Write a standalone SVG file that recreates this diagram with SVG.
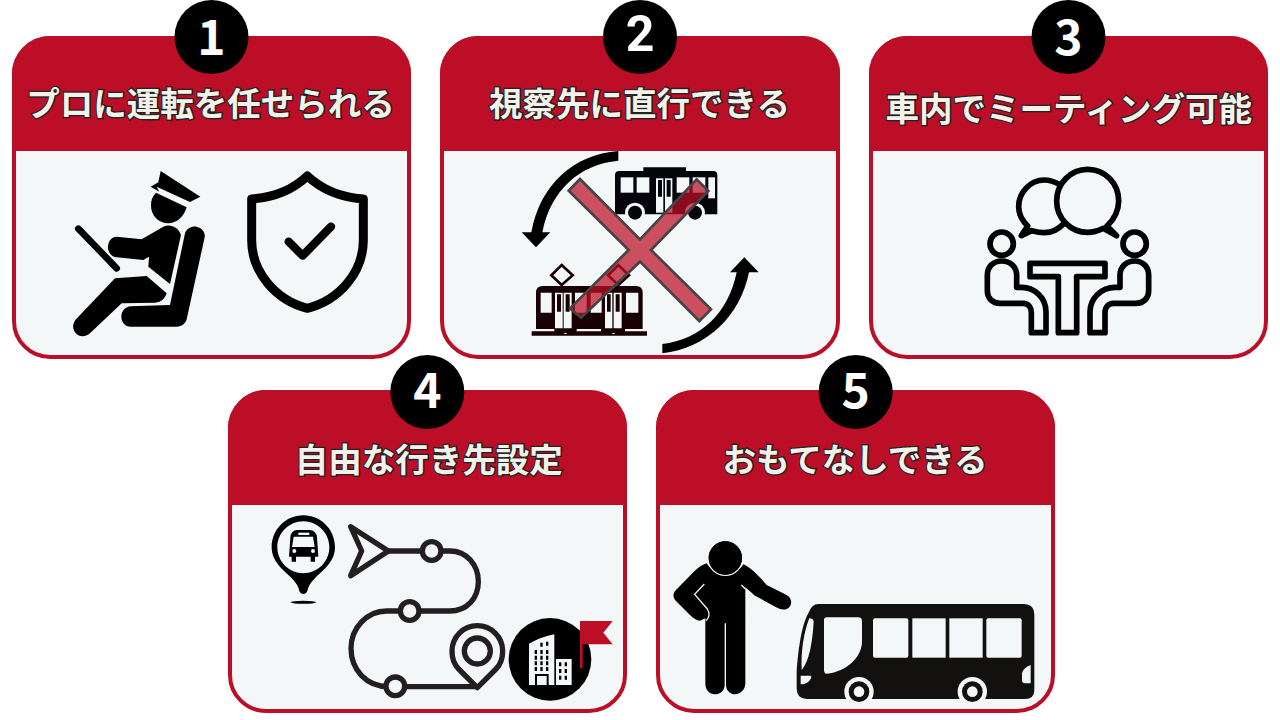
<svg xmlns="http://www.w3.org/2000/svg" width="1280" height="720" viewBox="0 0 1280 720">
<style>
.card{fill:#f3f7f8;stroke:#bc0e26;stroke-width:4}
.head{fill:#bc0e26}
.num{fill:#000}
.n{font-family:"Noto Sans CJK JP","Noto Sans",sans-serif;font-weight:700;font-size:48px;fill:#fff;text-anchor:middle}
.n2{font-family:Roboto,"Noto Sans",sans-serif;font-weight:700;font-size:50px;fill:#fff;text-anchor:middle}
.t{font-family:"Noto Sans CJK JP","Noto Sans CJK SC",sans-serif;font-weight:700;font-size:33.5px;fill:#f2f1ea;stroke:#222;stroke-width:2.6;paint-order:stroke;text-anchor:middle}
.k{fill:#000}
.ln{fill:none;stroke:#000;stroke-linecap:round;stroke-linejoin:round}
.w{fill:#f3f7f8}
.route{fill:none;stroke:#231f20;stroke-width:16;stroke-linejoin:round}
.dot{fill:#f3f7f8;stroke:#231f20;stroke-width:16}
</style>
<rect width="1280" height="720" fill="#fff"/>
<g id="connectors"/>

<g id="card-1">
<rect class="card" x="14" y="38" width="395" height="319" rx="36"/>
<path class="head" d="M12 151V74a38 38 0 0 1 38-38H373a38 38 0 0 1 38 38V151Z"/>
<circle class="num" cx="211.500" cy="37" r="37"/>
<text class="n" x="211.500" y="55">1</text>
<text class="t" x="210.500" y="116">プロに運転を任せられる</text>
<g transform="scale(.33333)">
<path class="k" d="M482 513L601 590L570 606L470 560L478 575L452 560L475 547Z"/>
<path class="k" d="M468 578L560 622C552 650 530 670 505 670C475 670 452 645 453 615C453 600 458 588 468 578Z"/>
<path class="ln" stroke-width="20" d="M235 686L350 805"/>
<path class="k" d="M350 710L425 718L490 680C510 670 535 680 543 705L510 852L445 800L447 770L430 780L350 772C330 770 322 750 324 738C326 722 335 710 350 710Z"/>
<path class="k" d="M345 835L440 828L500 880C495 895 485 907 465 908L365 910L270 1000C255 1012 238 1012 226 998C216 985 218 970 228 958Z"/>
<path class="k" d="M555 700C560 685 575 678 590 680C605 683 617 697 614 712L560 958C556 972 545 980 530 980H392C375 980 364 965 364 950C364 932 378 920 392 919L510 915Z"/>
<path class="ln" stroke-width="27" d="M922 528C880 568 825 592 755 597V720C755 815 825 900 922 925C1020 900 1090 815 1090 720V597C1020 592 965 568 922 528Z"/>
<path class="ln" stroke-width="25" d="M866 725L908 767L993 680"/>
</g>
</g>

<g id="card-2">
<rect class="card" x="442" y="38" width="396" height="319" rx="36"/>
<path class="head" d="M440 151V74a38 38 0 0 1 38-38H802a38 38 0 0 1 38 38V151Z"/>
<circle class="num" cx="640" cy="37" r="37"/>
<text class="n2" x="640" y="51">2</text>
<text class="t" x="639.500" y="116">視察先に直行できる</text>
<g transform="translate(430 0) scale(.33333)">
<path class="k" d="M565 453V482C450 492 362 570 337 697H361L318 742L275 697H304C330 555 430 463 565 453Z"/>
<path class="k" d="M697 1032C810 1020 895 940 920 817H900L943 772L986 817H957C930 950 830 1045 697 1060Z"/>
<g id="bus2">
<path fill="#04040a" d="M555 525Q555 513 568 513H640V502H768V513H850Q862 513 862 525V643H555Z"/>
<g class="w"><rect x="572" y="532" width="38" height="46"/><rect x="620" y="532" width="38" height="46"/><rect x="678" y="535" width="22" height="103"/><rect x="705" y="535" width="22" height="103"/><rect x="740" y="532" width="38" height="46"/><rect x="788" y="532" width="38" height="46"/><rect x="835" y="532" width="20" height="63"/></g>
<path fill="#04040a" d="M684 540h12v50h-12zM710 540h12v50h-12z"/>
<circle cx="615" cy="638" r="30" fill="#f3f7f8"/><circle cx="615" cy="638" r="21" fill="#04040a"/>
<circle cx="795" cy="638" r="30" fill="#f3f7f8"/><circle cx="795" cy="638" r="21" fill="#04040a"/>
</g>
<g id="tram">
<path fill="#190005" d="M318 878Q318 858 338 858H618Q638 858 638 878V987H318Z"/>
<path fill="#190005" d="M305 994H373V985H440V994H513V985H585V994H651V1007H305Z"/>
<path fill="#f3f7f8" d="M403 999h7v3h-7zM547 999h7v3h-7z"/>
<path fill="#f3f7f8" d="M332 878H365V938H332ZM375 878H398V985H375ZM401 878H425V985H401ZM435 878H470V938H435ZM482 878H515V938H482ZM525 878H547V985H525ZM551 878H575V985H551ZM588 878H625V938H588Z"/>
<path fill="#190005" d="M381 883h12v52h-12zM407 883h12v52h-12zM531 883h11v52h-11zM557 883h12v52h-12z"/>
<path fill="none" stroke="#190005" stroke-width="8" d="M395 795L428 826L395 855L364 826ZM565 795L597 826L565 855L534 826Z"/>
</g>
<path fill="#bc0e26" fill-opacity=".72" stroke="#444" stroke-width="8" stroke-linejoin="miter" d="M450 537L630 718L800 538L835 573L663 750L843 928L808 963L630 785L453 953L420 925L596 750L416 572Z"/>
</g>
</g>

<g id="card-3">
<rect class="card" x="871" y="38" width="395" height="319" rx="36"/>
<path class="head" d="M869 151V74a38 38 0 0 1 38-38H1230a38 38 0 0 1 38 38V151Z"/>
<circle class="num" cx="1068.500" cy="37" r="37"/>
<text class="n" x="1068.500" y="55">3</text>
<text class="t" x="1068.700" y="121">車内でミーティング可能</text>
<g transform="translate(860 0) scale(.33333)">
<g class="ln" stroke-width="17">
<path d="M598 553C580 543 565 540 553 540C510 540 476 578 476 620C476 642 487 662 503 678L484 707L515 692C530 696 545 698 553 698C575 698 595 688 610 672"/>
<path d="M741 678C760 660 776 635 776 603C776 550 735 508 683 508C632 508 590 550 590 603C590 655 632 697 683 697C700 697 715 692 730 685L770 707Z"/>
<circle cx="425" cy="731" r="35"/><circle cx="824" cy="731" r="35"/>
<path d="M510 790H735V830H650V998H595V830H510Z"/>
<path d="M470 862V825C470 800 450 783 425 783C400 783 382 800 382 825V872C382 895 398 910 420 910H490C505 910 514 922 514 938V998H558V935C558 895 525 862 485 862Z"/>
<path d="M780 862V825C780 800 800 783 824 783C848 783 866 800 866 825V872C866 895 850 910 828 910H760C745 910 735 922 735 938V998H690V935C690 895 725 862 765 862Z"/>
</g>
</g>
</g>

<g id="card-4">
<rect class="card" x="230" y="392" width="395" height="319" rx="36"/>
<path class="head" d="M228 505V428a38 38 0 0 1 38-38H589a38 38 0 0 1 38 38V505Z"/>
<circle class="num" cx="427.300" cy="392" r="37"/>
<text class="n" x="427.300" y="408">4</text>
<text class="t" x="428.800" y="472">自由な行き先設定</text>
<g transform="translate(220 355) scale(.33333)">
<path class="k" fill-rule="evenodd" d="M250 481C197 481 155 524 155 577C155 620 190 645 214 668C228 682 236 695 238 708C242 720 258 720 262 708C264 695 272 682 286 668C310 645 345 620 345 577C345 524 303 481 250 481ZM250 499C293 499 328 534 328 577C328 620 293 655 250 655C207 655 172 620 172 577C172 534 207 499 250 499Z"/>
<ellipse class="k" cx="250" cy="742" rx="38" ry="4.500"/>
<path class="k" d="M230 525H270Q290 528 291 548L295 605H285V620H272V605H228V620H215V605H207L211 548Q212 528 230 525Z"/>
<g class="w"><path d="M221 545H279L284 576H216Z"/><rect x="235" y="533" width="33" height="7"/><circle cx="223" cy="588" r="6"/><circle cx="279" cy="588" r="6"/></g>
<path class="route" d="M392 515L505 588L392 662L425 588Z"/>
<path class="route" d="M505 588H690C740 588 775 630 775 680C775 730 740 768 690 768H500C440 768 393 820 393 880C393 945 440 995 505 995H772"/>
<path class="route" d="M772 998L716 942C702 928 696 908 696 888C696 846 730 812 772 812C814 812 848 846 848 888C848 908 842 928 828 942Z"/>
<circle class="dot" cx="772" cy="888" r="39"/>
<circle class="dot" cx="635" cy="588" r="28"/>
<circle class="dot" cx="569" cy="768" r="28"/>
<circle class="dot" cx="526" cy="994" r="28"/>
<circle class="k" cx="990" cy="913" r="124"/>
<path fill="#f3f7f8" d="M927 990V866Q965 845 1003 838V990ZM1008 990V912H1055V990Z"/>
<g fill="#000"><path d="M961 863h7v12h-7zM978 860h7v12h-7zM944 885h7v12h-7zM961 885h7v12h-7zM978 885h7v12h-7zM944 902h7v12h-7zM961 902h7v12h-7zM978 902h7v12h-7zM944 919h7v12h-7zM961 919h7v12h-7zM978 919h7v12h-7zM944 936h7v12h-7zM961 936h7v12h-7zM978 936h7v12h-7zM1017 922h7v12h-7zM1034 922h7v12h-7zM1017 942h7v12h-7zM1034 942h7v12h-7zM1017 962h7v12h-7zM1034 962h7v12h-7z"/><path d="M945 957h41v33h-6v-27h-29v27h-6z"/></g>
<path fill="#bc0e26" d="M1080 798H1178L1150 833L1178 868H1088V940H1080Z"/>
</g>
</g>

<g id="card-5">
<rect class="card" x="658" y="392" width="395" height="319" rx="36"/>
<path class="head" d="M656 505V428a38 38 0 0 1 38-38H1017a38 38 0 0 1 38 38V505Z"/>
<circle class="num" cx="855.700" cy="392" r="37"/>
<text class="n" x="855.700" y="408">5</text>
<text class="t" x="855" y="472">おもてなしできる</text>
<g transform="translate(650 355) scale(.33333)">
<path class="k" d="M170 625C195 665 258 665 280 628C300 637 315 650 350 690L410 720C428 730 428 755 410 762C398 767 385 760 370 752L315 722L286 697V985C286 1005 270 1018 255 1018C240 1018 228 1005 228 990V805H224V990C224 1005 212 1018 195 1018C178 1018 166 1005 166 985V790L150 797C140 797 130 790 120 780L78 738C68 728 68 715 78 705L130 652C145 637 155 630 170 625Z"/>
<path fill="none" stroke="#f3f7f8" stroke-width="4" d="M163 687L134 718L172 762C180 775 178 788 168 797M274 690L286 702"/>
<circle class="k" cx="226" cy="609" r="52" stroke="#f3f7f8" stroke-width="4"/>
<circle class="k" cx="226" cy="609" r="50"/>
<path fill="#12110f" d="M505 747H1120Q1153 747 1153 780V1005Q1153 1032 1125 1032H470Q440 1032 440 1000V950C445 880 455 810 475 775Q485 747 505 747Z"/>
<g class="w">
<path d="M530 787H625Q636 787 636 798V860C636 905 590 950 530 956Q522 956 522 945V795Q522 787 530 787Z"/>
<rect x="669" y="790" width="106" height="118" rx="6"/><rect x="787" y="790" width="100" height="118"/><rect x="898" y="790" width="100" height="118"/><rect x="1009" y="790" width="106" height="118" rx="6"/>
<path d="M478 790Q490 790 491 800C488 850 480 915 455 945C452 890 462 830 478 790Z"/>
<path d="M452 962H480Q486 962 483 970Q475 988 452 988Z"/>
<path d="M1142 930V985H1125Q1116 985 1116 975V955Q1120 938 1142 930Z"/>
<circle cx="627" cy="1010" r="44"/><circle cx="967" cy="1010" r="44"/>
</g>
<circle cx="627" cy="1010" r="31" fill="#12110f"/><circle cx="627" cy="1010" r="16" class="w"/>
<circle cx="967" cy="1010" r="31" fill="#12110f"/><circle cx="967" cy="1010" r="16" class="w"/>
</g>
</g>
</svg>
